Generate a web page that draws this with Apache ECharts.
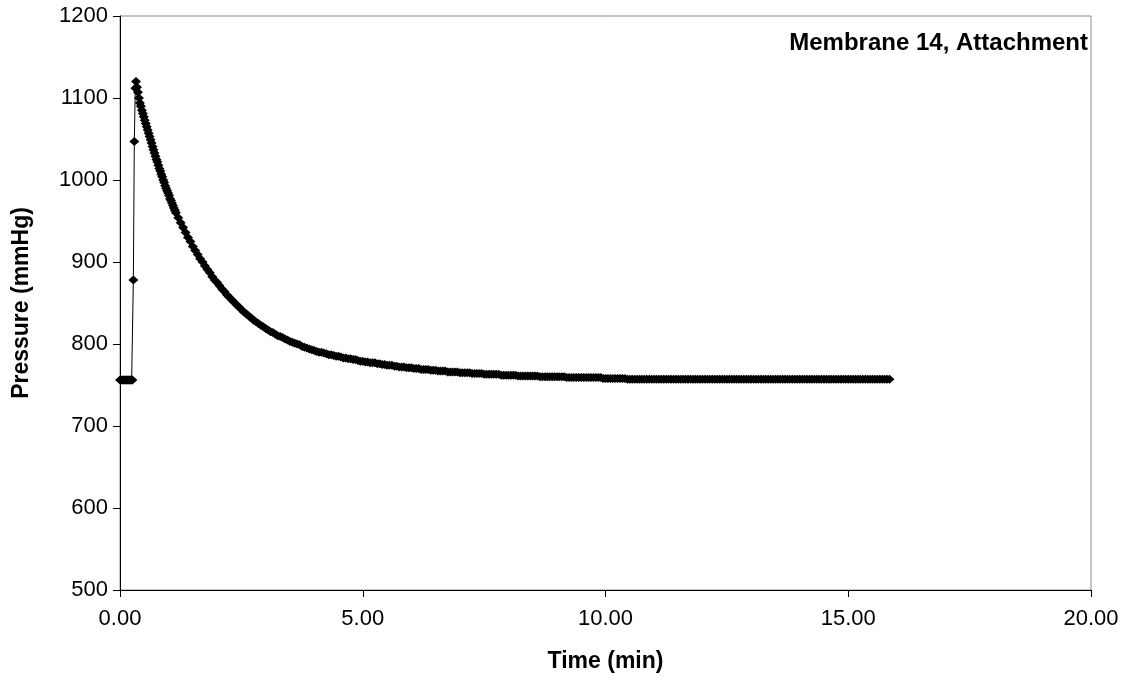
<!DOCTYPE html>
<html>
<head>
<meta charset="utf-8">
<script src="https://cdn.jsdelivr.net/npm/echarts@6/dist/echarts.min.js"></script>
<style>
  html, body { margin: 0; padding: 0; background: #ffffff; }
  #chart { width: 1130px; height: 682px; }
</style>
</head>
<body>
<div id="chart"></div>
<script>
// Membrane 14 attachment run: chamber pressure (mmHg) against time (min).
const chartTitle = 'Membrane 14, Attachment';
const xTitle = 'Time (min)';
const yTitle = 'Pressure (mmHg)';

// Resting pressure before the pulse
const baseline = [[0,756],[0.02,756],[0.04,756],[0.06,756],[0.08,756],[0.10,756],[0.12,756],
  [0.14,756],[0.16,756],[0.18,756],[0.20,756],[0.22,756],[0.24,756],[0.255,756]];

// Pressurisation
const rise = [[0.275,878],[0.295,1047],[0.315,1112]];

// Fast decay after the peak
const decayFast = [[0.33,1120],[0.35,1113],[0.37,1107],[0.39,1100],[0.41,1094],[0.43,1090],
  [0.45,1085],[0.47,1081],[0.49,1077],[0.51,1073],[0.53,1069],[0.55,1065],[0.57,1061],
  [0.59,1057],[0.61,1053],[0.63,1049],[0.65,1045],[0.67,1041],[0.69,1037],[0.71,1033],
  [0.73,1029],[0.75,1025],[0.77,1022],[0.79,1018],[0.81,1014],[0.83,1011],[0.85,1007],
  [0.87,1004],[0.89,1000],[0.91,997],[0.93,993],[0.95,990],[0.97,987],[0.99,984],
  [1.01,981],[1.03,977],[1.05,975],[1.07,972],[1.09,969],[1.11,966],[1.13,963]];

// Slower decay
const decaySlow = [[1.15,960],[1.20,954],[1.25,948],[1.30,942],[1.35,936],[1.40,930],
  [1.45,925],[1.50,919],[1.55,914],[1.60,909],[1.65,904],[1.70,900],[1.75,895],[1.80,891],
  [1.85,887],[1.90,882],[1.95,878],[2.00,875],[2.05,871],[2.10,867],[2.15,864],[2.20,860],
  [2.25,857],[2.30,854],[2.35,851],[2.40,848],[2.45,845],[2.50,842],[2.55,839],[2.60,837],
  [2.65,834],[2.70,832],[2.75,829],[2.80,827],[2.85,825],[2.90,823],[2.95,821],[3.00,819],
  [3.05,817],[3.10,815],[3.15,814],[3.20,812],[3.25,810],[3.30,809],[3.35,808],[3.40,806],
  [3.45,805],[3.50,803],[3.55,802],[3.60,801],[3.65,800],[3.70,799],[3.75,797],[3.80,796],
  [3.85,795],[3.90,794],[3.95,793],[4.00,792],[4.05,791],[4.10,790],[4.15,790],[4.20,789],
  [4.25,788],[4.30,787],[4.35,787],[4.40,786],[4.45,785],[4.50,785],[4.55,784],[4.60,783],
  [4.65,783],[4.70,782],[4.75,782],[4.80,781],[4.85,781],[4.90,780],[4.95,779],[5.00,779],
  [5.05,778],[5.10,778],[5.15,777],[5.20,777],[5.25,777],[5.30,776],[5.35,776],[5.40,775],
  [5.45,775]];

// Settling back towards ambient
const settle = [[5.50,774],[5.55,774],[5.60,774],[5.65,773],[5.70,773],[5.75,772],[5.80,772],
  [5.85,772],[5.90,771],[5.95,771],[6.00,771],[6.05,770],[6.10,770],[6.15,770],[6.20,769],
  [6.25,769],[6.30,769],[6.35,769],[6.40,768],[6.45,768],[6.50,768],[6.55,767],[6.60,767],
  [6.65,767],[6.70,767],[6.75,766],[6.80,766],[6.85,766],[6.90,766],[6.95,766],[7.00,765],
  [7.05,765],[7.10,765],[7.15,765],[7.20,765],[7.25,764],[7.30,764],[7.35,764],[7.40,764],
  [7.45,764],[7.50,763],[7.55,763],[7.60,763],[7.65,763],[7.70,763],[7.75,763],[7.80,763],
  [7.85,762],[7.90,762],[7.95,762],[8.00,762],[8.05,762],[8.10,762],[8.15,762],[8.20,761],
  [8.25,761],[8.30,761],[8.35,761],[8.40,761],[8.45,761],[8.50,761],[8.55,761],[8.60,761],
  [8.65,760],[8.70,760],[8.75,760],[8.80,760],[8.85,760],[8.90,760],[8.95,760],[9.00,760],
  [9.05,760],[9.10,760],[9.15,760],[9.20,759],[9.25,759],[9.30,759],[9.35,759],[9.40,759],
  [9.45,759],[9.50,759],[9.55,759],[9.60,759],[9.65,759],[9.70,759],[9.75,759],[9.80,759],
  [9.85,759],[9.90,759],[9.95,758],[10.00,758],[10.05,758],[10.10,758],[10.15,758],
  [10.20,758],[10.25,758],[10.30,758],[10.35,758],[10.40,758]];

// Ambient plateau
const plateau = [[10.45,757],[10.50,757],[10.55,757],[10.60,757],[10.65,757],[10.70,757],
  [10.75,757],[10.80,757],[10.85,757],[10.90,757],[10.95,757],[11.00,757],[11.05,757],
  [11.10,757],[11.15,757],[11.20,757],[11.25,757],[11.30,757],[11.35,757],[11.40,757],
  [11.45,757],[11.50,757],[11.55,757],[11.60,757],[11.65,757],[11.70,757],[11.75,757],
  [11.80,757],[11.85,757],[11.90,757],[11.95,757],[12.00,757],[12.05,757],[12.10,757],
  [12.15,757],[12.20,757],[12.25,757],[12.30,757],[12.35,757],[12.40,757],[12.45,757],
  [12.50,757],[12.55,757],[12.60,757],[12.65,757],[12.70,757],[12.75,757],[12.80,757],
  [12.85,757],[12.90,757],[12.95,757],[13.00,757],[13.05,757],[13.10,757],[13.15,757],
  [13.20,757],[13.25,757],[13.30,757],[13.35,757],[13.40,757],[13.45,757],[13.50,757],
  [13.55,757],[13.60,757],[13.65,757],[13.70,757],[13.75,757],[13.80,757],[13.85,757],
  [13.90,757],[13.95,757],[14.00,757],[14.05,757],[14.10,757],[14.15,757],[14.20,757],
  [14.25,757],[14.30,757],[14.35,757],[14.40,757],[14.45,757],[14.50,757],[14.55,757],
  [14.60,757],[14.65,757],[14.70,757],[14.75,757],[14.80,757],[14.85,757],[14.90,757],
  [14.95,757],[15.00,757],[15.05,757],[15.10,757],[15.15,757],[15.20,757],[15.25,757],
  [15.30,757],[15.35,757],[15.40,757],[15.45,757],[15.50,757],[15.55,757],[15.60,757],
  [15.65,757],[15.70,757],[15.75,757],[15.80,757],[15.85,757]];

const samples = [].concat(baseline, rise, decayFast, decaySlow, settle, plateau);

const textFont = '"Liberation Sans", Arial, sans-serif';

const chart = echarts.init(document.getElementById('chart'), null, { renderer: 'canvas' });
chart.setOption({
  animation: false,
  backgroundColor: '#ffffff',
  grid: {
    left: 120, top: 16, right: 39, bottom: 92,
    show: true, borderColor: '#8c8c8c', borderWidth: 1, backgroundColor: 'transparent'
  },
  xAxis: {
    type: 'value', min: 0, max: 20, interval: 5,
    name: xTitle, nameLocation: 'middle', nameGap: 60,
    nameTextStyle: { fontFamily: textFont, fontWeight: 'bold', fontSize: 23, color: '#000' },
    axisLine: { show: true, lineStyle: { color: '#000', width: 1 } },
    axisTick: { show: true, length: 7, inside: false, lineStyle: { color: '#000' } },
    axisLabel: { margin: 18, fontFamily: textFont, fontSize: 22, color: '#000',
      formatter: v => v.toFixed(2) },
    splitLine: { show: false }
  },
  yAxis: {
    type: 'value', min: 500, max: 1200, interval: 100,
    name: yTitle, nameLocation: 'middle', nameGap: 87, nameRotate: 90,
    nameTextStyle: { fontFamily: textFont, fontWeight: 'bold', fontSize: 23, color: '#000' },
    axisLine: { show: true, lineStyle: { color: '#000', width: 1 } },
    axisTick: { show: true, length: 7, inside: false, lineStyle: { color: '#000' } },
    axisLabel: { margin: 12, fontFamily: textFont, fontSize: 22, color: '#000',
      formatter: v => String(v) },
    splitLine: { show: false }
  },
  graphic: [{
    type: 'text', right: 42, top: 31,
    style: { text: chartTitle, fontFamily: textFont, fontWeight: 'bold', fontSize: 24, fill: '#000' }
  }],
  series: [{
    type: 'line',
    data: samples,
    symbol: 'diamond',
    symbolSize: [10, 9],
    showSymbol: true,
    showAllSymbol: true,
    itemStyle: { color: '#000', borderWidth: 0 },
    lineStyle: { color: '#000', width: 1 },
    clip: false
  }]
});
</script>
</body>
</html>
